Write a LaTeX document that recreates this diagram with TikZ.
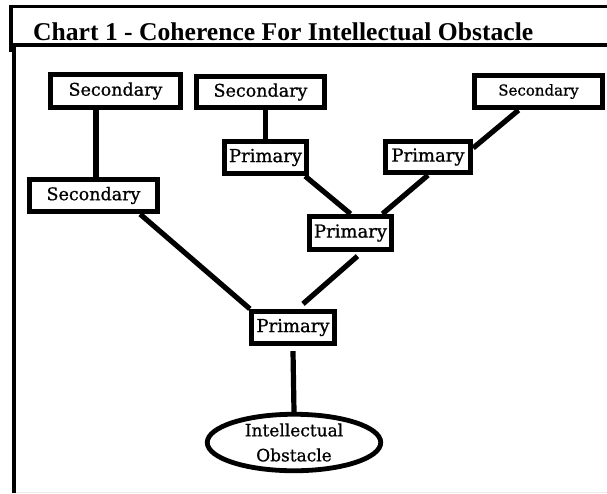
\documentclass[tikz,border=0pt]{standalone}
\usepackage{fontspec}
\setmainfont{DejaVu Serif}
\newfontfamily\titlefont{Liberation Serif}
\newfontfamily\boxfont[FakeBold=0.8]{DejaVu Serif}
\usetikzlibrary{shapes.geometric}
\begin{document}
\begin{tikzpicture}[x=1pt,y=-1pt,
  frame/.style={line width=4pt},
  box/.style={draw, rectangle, line width=4.8pt, inner sep=0pt, align=center},
  link/.style={line width=5.2pt}]
\useasboundingbox (0,0) rectangle (607,493);
% header frame
\draw[frame, line width=3pt] (9,6) -- (607,6);
\draw[frame, line width=3.5pt] (11,4.5) -- (11,52);
\draw[frame] (9,45) -- (607,45);
\draw[frame, line width=4.5pt] (14,46) -- (14,493);
\draw[black!8, line width=1pt] (16,492) -- (607,492);
\node[anchor=base west, inner sep=0pt] (title) at (33,40)
  {\titlefont\bfseries\fontsize{25.6}{28}\selectfont Chart 1 - Coherence For Intellectual Obstacle};
% boxes
\node[box, minimum width=130.5pt, minimum height=33.5pt, font=\boxfont\fontsize{17.5}{20}\selectfont] (s1) at (115.5,91) {Secondary};
\node[box, minimum width=128.5pt, minimum height=31.5pt, font=\boxfont\fontsize{17.5}{20}\selectfont] (s2) at (260.5,92) {Secondary};
\node[box, minimum width=128.5pt, minimum height=32.5pt, font=\boxfont\fontsize{15}{18}\selectfont] (s3) at (538.5,91.5) {Secondary};
\node[box, minimum width=128.5pt, minimum height=32.5pt, font=\boxfont\fontsize{17.5}{20}\selectfont] (s4) at (93.5,195.5) {Secondary};
\node[box, minimum width=82.5pt, minimum height=32.5pt, font=\boxfont\fontsize{18}{20}\selectfont] (p1) at (265.5,157.5) {Primary};
\node[box, minimum width=85.5pt, minimum height=31.5pt, font=\boxfont\fontsize{18}{20}\selectfont] (p2) at (428,157) {Primary};
\node[box, minimum width=82.5pt, minimum height=33.5pt, font=\boxfont\fontsize{18}{20}\selectfont] (p3) at (350.5,233) {Primary};
\node[box, minimum width=83.5pt, minimum height=32.5pt, font=\boxfont\fontsize{18}{20}\selectfont] (p4) at (293,327.5) {Primary};
\node[draw, ellipse, line width=4.8pt, inner sep=0pt, minimum width=173.5pt, minimum height=56.5pt,
  align=center, font=\boxfont\fontsize{17}{25}\selectfont] (obs) at (294,442.5) {Intellectual\\Obstacle};
% connectors
\draw[link] (s1.south -| 96,0) -- (s4.north -| 96,0);
\draw[link] (s2.south -| p1.north) -- (p1.north);
\draw[link] ([xshift=-20pt]s4.south east) -- ([xshift=1pt]p4.north west);
\draw[link] ([xshift=-4pt]p1.south east) -- (p3.north);
\draw[link] (p2.south) -- ([xshift=32pt]p3.north);
\draw[link] ([xshift=-20pt]s3.south) -- ([yshift=9pt]p2.east);
\draw[link] ([xshift=7pt,yshift=-4pt]p3.south) -- ([xshift=10pt,yshift=5pt]p4.north);
\draw[link] ([yshift=-5pt]p4.south) -- (obs.north);
\end{tikzpicture}
\end{document}
